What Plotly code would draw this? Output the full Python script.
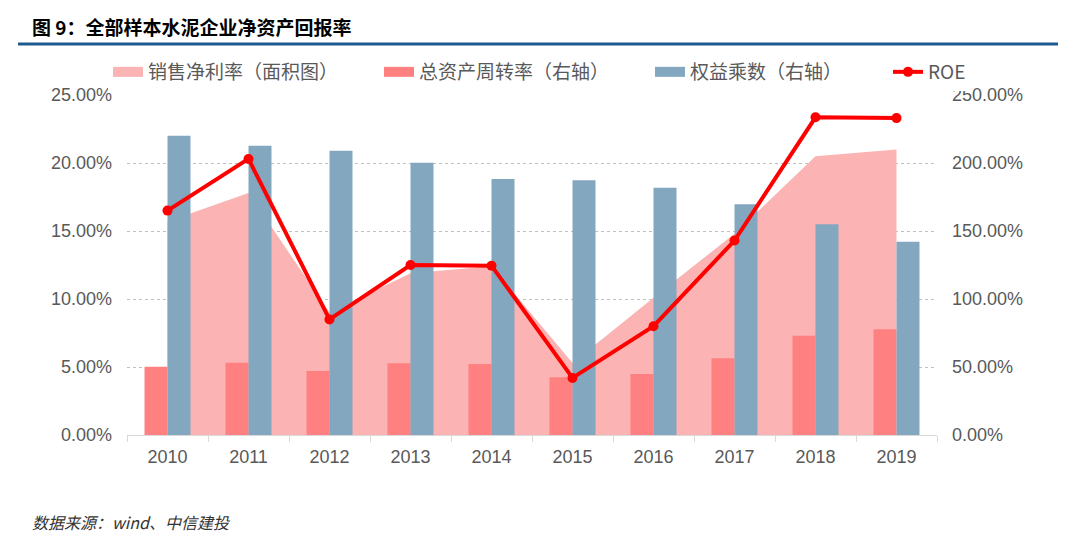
import plotly.graph_objects as go

years = ["2010", "2011", "2012", "2013", "2014", "2015", "2016", "2017", "2018", "2019"]
# 销售净利率 (left axis, area)
net_margin = [0.157, 0.178, 0.090, 0.119, 0.124, 0.053, 0.101, 0.148, 0.205, 0.210]
# 总资产周转率 (right axis)
asset_turnover = [0.502, 0.532, 0.470, 0.527, 0.522, 0.424, 0.449, 0.564, 0.730, 0.777]
# 权益乘数 (right axis)
equity_multiplier = [2.201, 2.127, 2.090, 2.002, 1.882, 1.873, 1.818, 1.696, 1.549, 1.421]
# ROE (left axis scale)
roe = [0.165, 0.203, 0.085, 0.125, 0.1245, 0.042, 0.080, 0.143, 0.2336, 0.233]

left_ticks = [0, 0.05, 0.10, 0.15, 0.20, 0.25]
right_ticks = [0, 0.5, 1.0, 1.5, 2.0, 2.5]

tick_font = dict(family="Liberation Sans, Arial, sans-serif", size=18, color="#595959")
cjk = "Noto Sans CJK SC, sans-serif"

PINK = "#FBB3B3"
RED_BAR = "#FF8080"
BLUE_BAR = "#82A7BF"
ROE_RED = "#FF0000"

fig = go.Figure()

fig.add_trace(go.Scatter(
    x=years, y=net_margin, name="销售净利率（面积图）",
    mode="none", fill="tozeroy", fillcolor=PINK,
    yaxis="y", showlegend=False,
))
fig.add_trace(go.Bar(
    x=years, y=asset_turnover, name="总资产周转率（右轴）",
    marker=dict(color=RED_BAR, line_width=0), yaxis="y2", showlegend=False,
))
fig.add_trace(go.Bar(
    x=years, y=equity_multiplier, name="权益乘数（右轴）",
    marker=dict(color=BLUE_BAR, line_width=0), yaxis="y2", showlegend=False,
))
fig.add_trace(go.Scatter(
    x=years, y=roe, name="ROE", mode="lines+markers",
    line=dict(color=ROE_RED, width=4),
    marker=dict(color=ROE_RED, size=10),
    yaxis="y3", legend="legend2",
))

# wide rectangular legend swatches like the original
for name, color in [("销售净利率（面积图）", PINK),
                    ("总资产周转率（右轴）", RED_BAR),
                    ("权益乘数（右轴）", BLUE_BAR)]:
    fig.add_trace(go.Scatter(
        x=[None], y=[None], name=name, mode="lines",
        line=dict(color=color, width=10), yaxis="y", legend="legend",
    ))

fig.update_layout(
    width=1080, height=543,
    margin=dict(l=127, r=143, t=95, b=108, autoexpand=False),
    paper_bgcolor="white", plot_bgcolor="white",
    barmode="group", bargap=0.432, bargroupgap=0,
    xaxis=dict(
        type="category", range=[-0.5, 9.5], showline=True, linecolor="#D9D9D9",
        linewidth=1, ticks="outside", tickson="boundaries", ticklen=6,
        tickcolor="#D9D9D9", tickfont=tick_font, showgrid=False,
        ticklabelstandoff=5,
    ),
    yaxis=dict(
        range=[0, 0.25], tickvals=left_ticks, tickformat=".2%",
        tickfont=tick_font, showgrid=True, gridcolor="#BFBFBF", griddash="dot",
        gridwidth=1, zeroline=False, showline=False, ticks="", ticklabelstandoff=14,
    ),
    yaxis2=dict(
        range=[0, 2.5], tickvals=right_ticks, tickformat=".2%",
        overlaying="y", side="right", tickfont=tick_font, showgrid=False,
        zeroline=False, showline=False, ticks="", ticklabelstandoff=14,
    ),
    yaxis3=dict(
        range=[0, 0.25], overlaying="y", visible=False,
    ),
    legend=dict(
        orientation="h", xref="container", yref="container",
        x=108 / 1080, y=1 - 72 / 543, xanchor="left", yanchor="middle",
        font=dict(family=cjk, size=19, color="#595959"),
        entrywidth=226, entrywidthmode="pixels",
        traceorder="normal",
    ),
    legend2=dict(
        orientation="h", xref="container", yref="container",
        x=888 / 1080, y=1 - 72 / 543, xanchor="left", yanchor="middle",
        font=dict(family=cjk, size=19, color="#595959"),
    ),
)

fig.add_annotation(
    text="<b>图 9：全部样本水泥企业净资产回报率</b>",
    xref="paper", yref="paper", x=-(127 - 30) / 810, y=1 + (95 - 26) / 340,
    xanchor="left", yanchor="middle", showarrow=False,
    font=dict(family=cjk, size=19, color="#000000"),
)
fig.add_shape(
    type="line", xref="paper", yref="paper",
    x0=-(127 - 18) / 810, x1=(1058 - 127) / 810,
    y0=1 + (95 - 44) / 340, y1=1 + (95 - 44) / 340,
    line=dict(color="#1F5A8F", width=3),
)
fig.add_annotation(
    text="数据来源：wind、中信建投",
    xref="paper", yref="paper", x=-(127 - 30) / 810, y=-(522 - 435) / 340,
    xanchor="left", yanchor="middle", showarrow=False,
    font=dict(family=cjk, size=16, color="#333333", style="italic"),
)

fig.write_html(
    "out.html",
    config={"displayModeBar": False},
    post_script="document.body.style.margin='0';",
)
